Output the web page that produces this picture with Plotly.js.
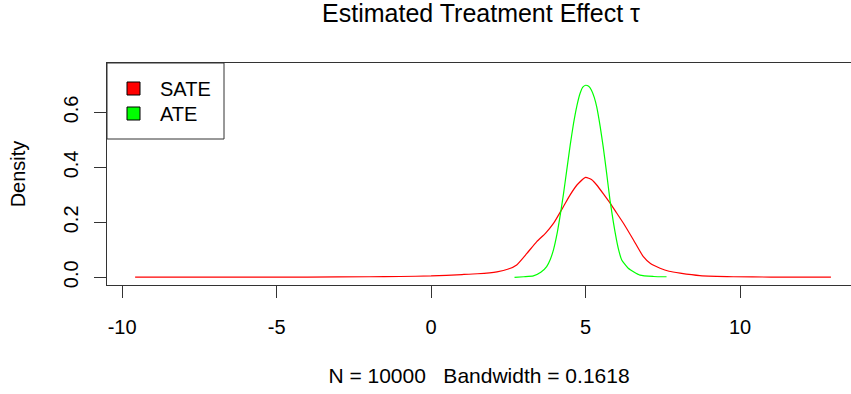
<!DOCTYPE html>
<html>
<head>
<meta charset="utf-8">
<script src="https://cdn.plot.ly/plotly-3.0.1.min.js"></script>
<style>html,body{margin:0;padding:0;background:#fff;}</style>
</head>
<body>
<div id="chart" style="width:851px;height:394px;"></div>
<script>
// SATE density (red)
const sateX = [-9.58, -8, -6, -4, -2, -1, 0, 1, 1.5, 2.13, 2.5, 2.77, 3.1, 3.42, 3.7, 3.96, 4.28, 4.5, 4.72, 5.0, 5.2, 5.36, 5.6, 5.8, 6.0, 6.23, 6.55, 6.87, 7.1, 7.41, 7.7, 8.06, 8.7, 9.78, 11, 12.94];
const sateY = [0.001, 0.001, 0.001, 0.001, 0.002, 0.003, 0.005, 0.01, 0.013, 0.02, 0.03, 0.045, 0.087, 0.13, 0.16, 0.196, 0.257, 0.3, 0.336, 0.364, 0.355, 0.336, 0.3, 0.269, 0.235, 0.196, 0.136, 0.075, 0.05, 0.033, 0.022, 0.015, 0.006, 0.002, 0.001, 0.001];
// ATE density (green)
const ateX = [2.7, 3.0, 3.31, 3.55, 3.74, 3.86, 3.96, 4.07, 4.17, 4.28, 4.39, 4.5, 4.61, 4.72, 4.82, 4.91, 5.0, 5.1, 5.19, 5.28, 5.36, 5.47, 5.57, 5.68, 5.79, 5.9, 6.0, 6.08, 6.17, 6.38, 6.76, 7.2, 7.62];
const ateY = [0.0, 0.002, 0.005, 0.018, 0.039, 0.066, 0.1, 0.155, 0.22, 0.3, 0.39, 0.48, 0.56, 0.625, 0.669, 0.692, 0.699, 0.695, 0.681, 0.655, 0.62, 0.55, 0.475, 0.38, 0.281, 0.2, 0.136, 0.095, 0.063, 0.033, 0.008, 0.003, 0.002];

const seriesNames = ["SATE", "ATE"];
const seriesColors = ["#ff0000", "#00ff00"];
const xTickVals = [-10, -5, 0, 5, 10];
const xTickText = ["-10", "-5", "0", "5", "10"];
const yTickVals = [0, 0.2, 0.4, 0.6];
const yTickText = ["0.0", "0.2", "0.4", "0.6"];
const titleText = "Estimated Treatment Effect \u03c4";
const xLabel = "N = 10000\u00a0\u00a0\u00a0Bandwidth = 0.1618";
const yLabel = "Density";

const FONT = "Liberation Sans, Arial, Helvetica, sans-serif";

const traces = [
  {x: sateX, y: sateY, type: "scatter", mode: "lines", name: seriesNames[0], showlegend: false,
   line: {color: seriesColors[0], width: 1.2, shape: "spline", smoothing: 0.5}, hoverinfo: "skip"},
  {x: ateX, y: ateY, type: "scatter", mode: "lines", name: seriesNames[1], showlegend: false,
   line: {color: seriesColors[1], width: 1.2, shape: "spline", smoothing: 0.5}, hoverinfo: "skip"},
  {x: [null], y: [null], type: "scatter", mode: "markers", name: seriesNames[0], showlegend: true, legend: "legend",
   marker: {symbol: "square", size: 13, color: seriesColors[0], line: {color: "#000", width: 1}}},
  {x: [null], y: [null], type: "scatter", mode: "markers", name: seriesNames[1], showlegend: true, legend: "legend2",
   marker: {symbol: "square", size: 13, color: seriesColors[1], line: {color: "#000", width: 1}}}
];

const legendBase = {xref: "paper", yref: "paper", xanchor: "left", yanchor: "top", x: 0,
  bgcolor: "rgba(0,0,0,0)", borderwidth: 0, itemwidth: 43,
  font: {family: FONT, size: 20, color: "#000"}, tracegroupgap: 0};

const layout = {
  width: 851, height: 394, autosize: false,
  margin: {l: 107, r: 0, t: 63, b: 109, pad: 0},
  paper_bgcolor: "#fff", plot_bgcolor: "#fff",
  font: {family: FONT, size: 20, color: "#000"},
  title: {text: titleText, font: {family: FONT, size: 25, color: "#000"},
          x: 0.5027, xref: "paper", xanchor: "center", y: 1 - 13/394, yref: "container", yanchor: "middle"},
  xaxis: {range: [-10.49, 13.59], tickvals: xTickVals, ticktext: xTickText,
          showgrid: false, zeroline: false, showline: true, mirror: true, linecolor: "#333", linewidth: 1,
          ticks: "outside", ticklen: 12, tickwidth: 1, tickcolor: "#333", ticklabelstandoff: 12,
          tickfont: {family: FONT, size: 20, color: "#000"},
          title: {text: xLabel, font: {family: FONT, size: 21, color: "#000"}, standoff: 31}},
  yaxis: {range: [-0.028, 0.78], tickvals: yTickVals, ticktext: yTickText, tickangle: -90,
          showgrid: false, zeroline: false, showline: true, mirror: false, linecolor: "#333", linewidth: 1,
          ticks: "outside", ticklen: 12, tickwidth: 1, tickcolor: "#333", ticklabelstandoff: 8,
          tickfont: {family: FONT, size: 20, color: "#000"},
          title: {text: yLabel, font: {family: FONT, size: 20, color: "#000"}, standoff: 29}},
  legend: Object.assign({}, legendBase, {y: 1 - 6/222}),
  legend2: Object.assign({}, legendBase, {y: 1 - 31/222}),
  shapes: [{type: "rect", xref: "paper", yref: "paper", x0: 0, x1: 117/744, y0: 1 - 76/222, y1: 1,
            line: {color: "#333", width: 1}, fillcolor: "rgba(0,0,0,0)", layer: "above"}]
};

Plotly.newPlot("chart", traces, layout, {staticPlot: true, displayModeBar: false});
</script>
</body>
</html>
